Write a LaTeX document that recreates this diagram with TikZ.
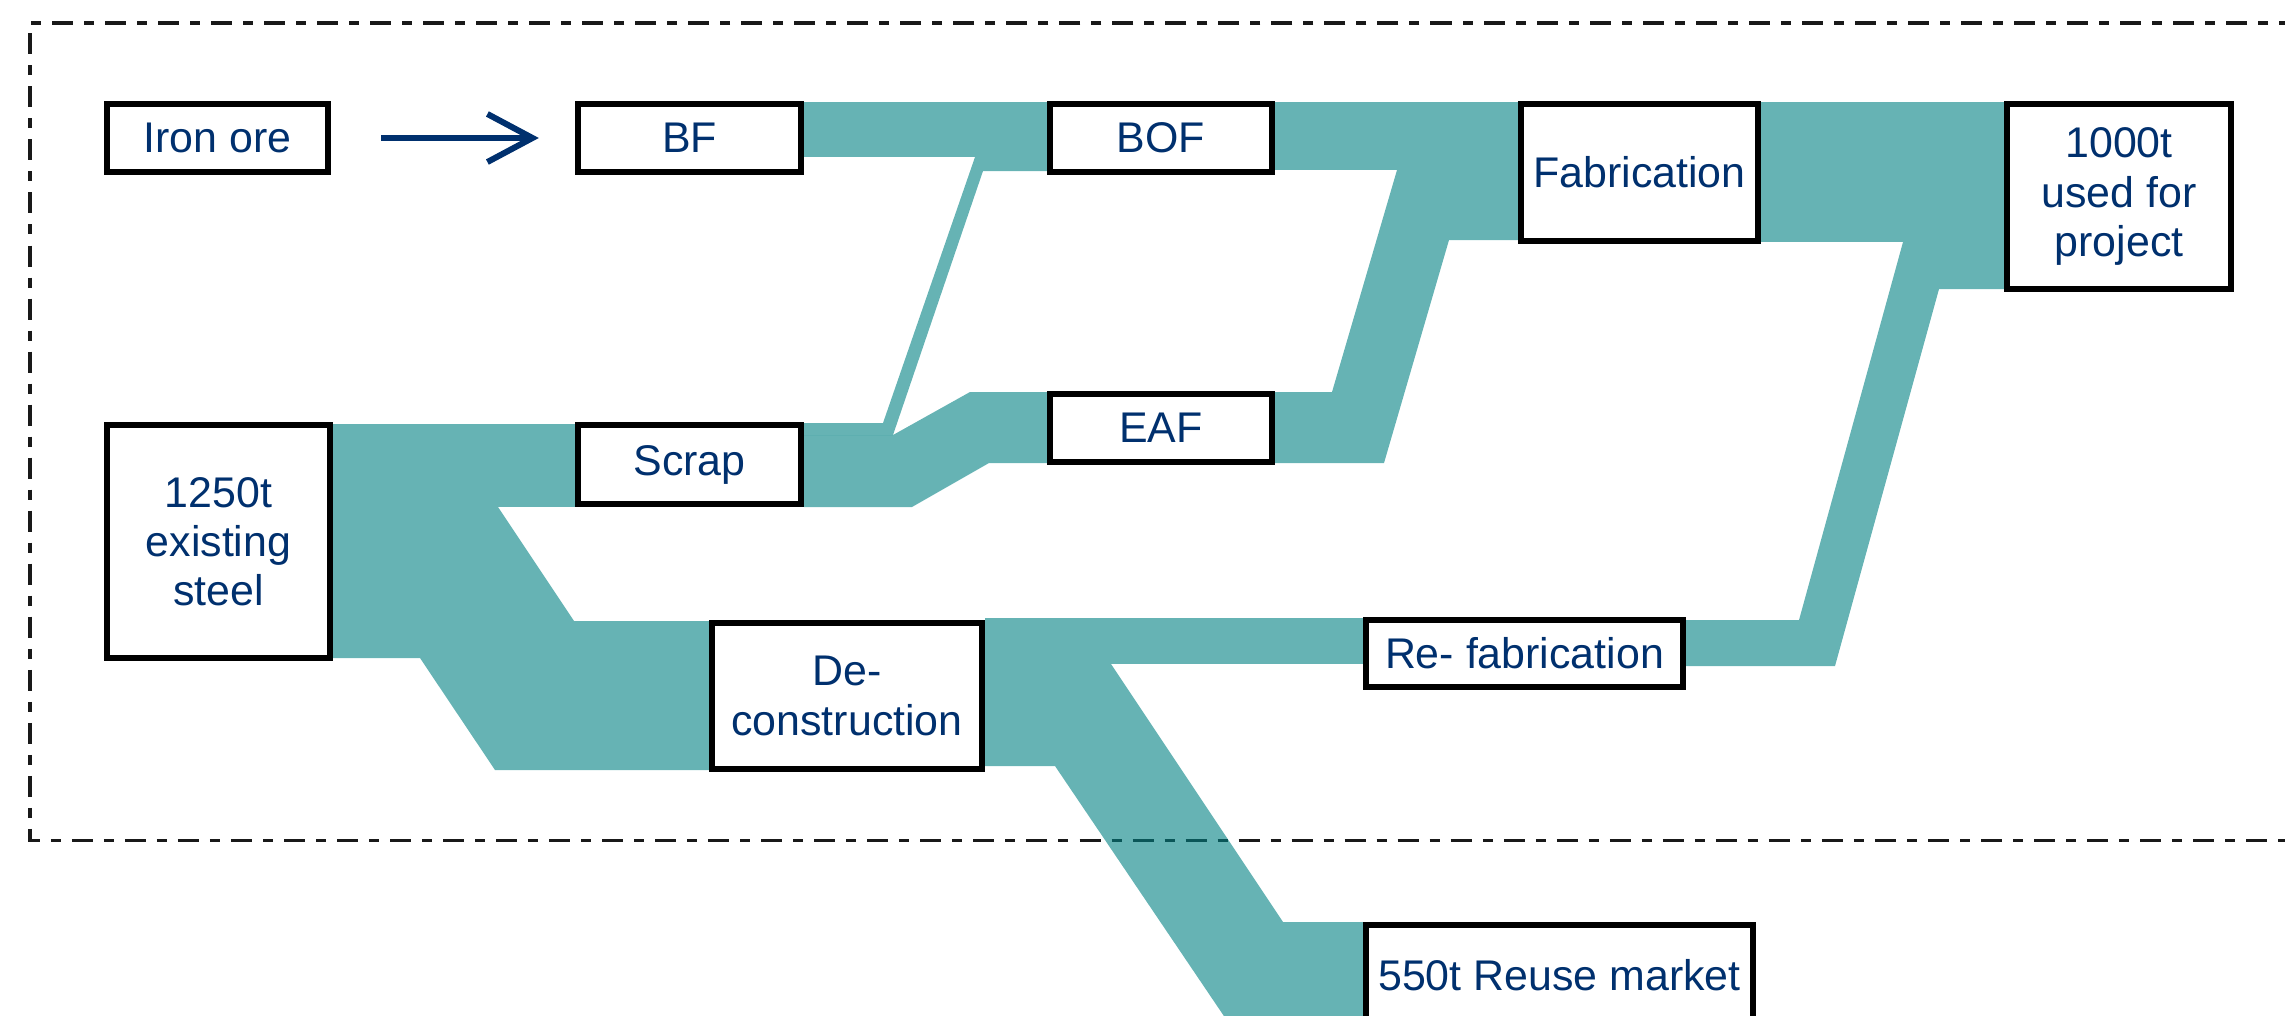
\documentclass[tikz,border=0pt]{standalone}
\usepackage{fontspec}
\setmainfont{Liberation Sans}
\usetikzlibrary{arrows.meta,calc}
\definecolor{navy}{RGB}{0,48,110}
\definecolor{flow}{RGB}{0,128,130}
\pgfdeclarelayer{bottom}
\pgfdeclarelayer{bg}
\pgfsetlayers{bottom,bg,main}
\begin{document}
\begin{tikzpicture}[x=0.01cm,y=-0.01cm,
  box/.style={draw=black, line width=0.062cm, fill=white, inner sep=0pt, align=center,
    text=navy, font=\fontsize{12.2}{14}\selectfont},
  band/.style={fill=flow, fill opacity=0.6},
  frame/.style={draw=black!90, line width=0.03cm,
    dash pattern=on 0.21cm off 0.11cm on 0.10cm off 0.11cm},
  flowarrow/.style={draw=navy, line width=0.06cm,
    -{Straight Barb[length=0.45cm,width=0.48cm]}}]
\useasboundingbox (0,0) rectangle (2285,1015);
\clip (0,0) rectangle (2285,1015);

% boxes
\node[box, minimum width=2.21cm, minimum height=0.68cm] (ore)   at (217.5,138)  {Iron ore};
\node[box, minimum width=2.23cm, minimum height=0.68cm] (bf)    at (689.5,138)  {BF};
\node[box, minimum width=2.22cm, minimum height=0.68cm] (bof)   at (1161,138)   {BOF};
\node[box, minimum width=2.37cm, minimum height=1.37cm] (fab)   at (1639.5,172.5) {Fabrication};
\node[box, minimum width=2.24cm, minimum height=1.85cm] (proj)  at (2119,196.5) {1000t\\used for\\project};
\node[box, minimum width=2.23cm, minimum height=0.79cm] (scrap) at (689.5,464.5) {Scrap};
\node[box, minimum width=2.22cm, minimum height=0.68cm] (eaf)   at (1161,428)   {EAF};
\node[box, minimum width=2.23cm, minimum height=2.33cm] (exist) at (218.5,541.5) {1250t\\existing\\steel};
\node[box, minimum width=2.70cm, minimum height=1.46cm] (decon) at (847,696)    {De-\\construction};
\node[box, minimum width=3.17cm, minimum height=0.67cm] (refab) at (1524.5,653.5) {Re- fabrication};
\node[box, minimum width=3.87cm, minimum height=1.00cm] (reuse) at (1559.5,975) {550t Reuse market};

% arrow
\draw[flowarrow, shorten <=0.50cm, shorten >=0.36cm] (ore) -- (bf);

% dashed system boundary
\begin{pgfonlayer}{bottom}
\clip (0,0) rectangle (2285,1015);
\draw[frame] (2300,23) -- (30,23) -- (30,840) -- (2300,840);
\end{pgfonlayer}

% flows
\begin{pgfonlayer}{bg}
\clip (0,0) rectangle (2285,1015);
% BF -> BOF
\fill[band] (bf.east|-0,102) -- (bof.west|-0,102) -- (bof.west|-0,157) -- (bf.east|-0,157) -- cycle;
% Scrap -> BOF
\fill[band] (scrap.east|-0,423) -- (883,423) -- (975,157) -- (bof.west|-0,157) -- (bof.west|-0,171)
  -- (983,171) -- (893,435) -- (scrap.east|-0,435) -- cycle;
% Scrap -> EAF
\fill[band] (scrap.east|-0,435) -- (893,435) -- (970,392) -- (eaf.west|-0,392) -- (eaf.west|-0,463)
  -- (989,463) -- (912,507) -- (scrap.east|-0,507) -- cycle;
% BOF -> Fabrication
\fill[band] (bof.east|-0,102) -- (fab.west|-0,102) -- (fab.west|-0,170) -- (bof.east|-0,170) -- cycle;
% EAF -> Fabrication
\fill[band] (eaf.east|-0,392) -- (1332,392) -- (1397,170) -- (fab.west|-0,170) -- (fab.west|-0,240)
  -- (1449,240) -- (1384,463) -- (eaf.east|-0,463) -- cycle;
% Fabrication -> project
\fill[band] (fab.east|-0,102) -- (proj.west|-0,102) -- (proj.west|-0,242) -- (fab.east|-0,242) -- cycle;
% Re-fabrication -> project
\fill[band] (refab.east|-0,620) -- (1799,620) -- (1903,242) -- (proj.west|-0,242) -- (proj.west|-0,289)
  -- (1939,289) -- (1835,666) -- (refab.east|-0,666) -- cycle;
% existing -> Scrap
\fill[band] (exist.east|-0,424) -- (scrap.west|-0,424) -- (scrap.west|-0,507) -- (exist.east|-0,507) -- cycle;
% existing -> De-construction
\fill[band] (exist.east|-0,507) -- (498,507) -- (574,621) -- (decon.west|-0,621) -- (decon.west|-0,770)
  -- (495,770) -- (420,658) -- (exist.east|-0,658) -- cycle;
% De-construction -> Re-fabrication
\fill[band] (decon.east|-0,618) -- (refab.west|-0,618) -- (refab.west|-0,664) -- (decon.east|-0,664) -- cycle;
% De-construction -> Reuse market
\fill[band] (decon.east|-0,664) -- (1111,664) -- (1283,922) -- (reuse.west|-0,922) -- (reuse.west|-0,1028)
  -- (1232,1028) -- (1055,766) -- (decon.east|-0,766) -- cycle;
\end{pgfonlayer}
\end{tikzpicture}
\end{document}
